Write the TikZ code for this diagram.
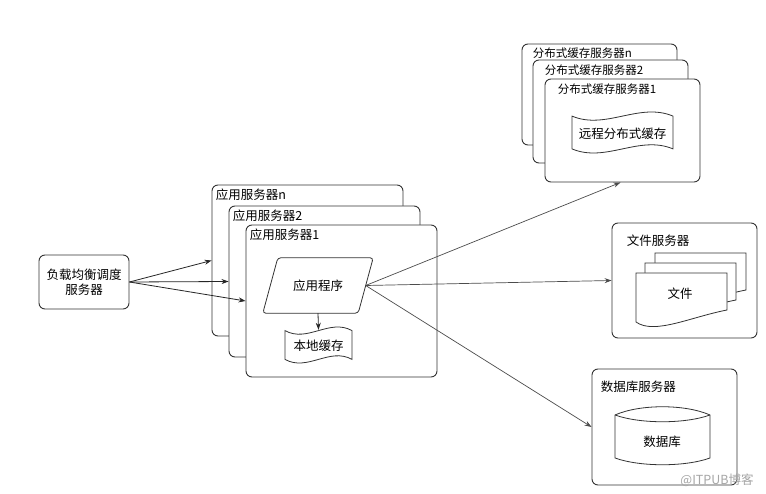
\documentclass[tikz,border=0pt]{standalone}
\usepackage{fontspec}
\setmainfont{Noto Sans CJK SC}
\usetikzlibrary{arrows.meta}
\begin{document}
\begin{tikzpicture}[x=1pt,y=-1pt,
  every node/.style={font=\fontsize{12.5}{14}\selectfont, text=black},
  box/.style={draw=black!80, line width=0.9pt, rounded corners=6pt, fill=white, inner sep=0pt},
  ghost/.style={inner sep=0pt},
  shp/.style={draw=black!80, line width=0.8pt},
  title/.style={anchor=west, inner sep=0pt},
  smalltitle/.style={anchor=west, inner sep=0pt, font=\fontsize{11.5}{13}\selectfont},
  arr/.style={draw=black!85, line width=0.8pt, -{Stealth[length=7pt,width=5pt]}},
  wire/.style={draw=black!70, line width=0.7pt, -{Stealth[length=7pt,width=5pt]}}]

\fill[white] (0,0) rectangle (766,494);
\useasboundingbox (0,0) rectangle (766,494);

% load balancer
\node[box, minimum width=90pt, minimum height=54pt, align=center] (lb) at (84,282) {负载均衡调度\\[1pt]服务器};

% application servers
\node[box, minimum width=191pt, minimum height=151pt] (srvn) at (307.5,260.5) {};
\node[title] (tn) at ([shift={(4,10)}]srvn.north west) {应用服务器n};
\node[box, minimum width=191pt, minimum height=151pt] (srv2) at (324.5,281.5) {};
\node[title] (t2) at ([shift={(4,10)}]srv2.north west) {应用服务器2};
\node[box, minimum width=191pt, minimum height=152pt] (srv1) at (341.5,301) {};
\node[title] (t1) at ([shift={(4,10)}]srv1.north west) {应用服务器1};

% application program (parallelogram)
\node[ghost, minimum width=95pt, minimum height=55pt] (app) at (318,285.5) {应用程序};
\draw[shp, rounded corners=3pt] ([xshift=7.5pt]app.north west) -- ([xshift=7.5pt]app.north east)
  -- ([xshift=-7.5pt]app.south east) -- ([xshift=-7.5pt]app.south west) -- cycle;

% local cache (tape)
\draw[shp] (285,330.6) .. controls (307.3,343.1) and (329.7,318.1) .. (352,330.6)
  -- (352,359.4) .. controls (329.7,346.9) and (307.3,371.9) .. (285,359.4) -- cycle;
\node[ghost, minimum width=67pt, minimum height=36pt] (lc) at (318.5,346) {本地缓存};

% distributed cache servers
\node[box, minimum width=155pt, minimum height=101pt] (dcn) at (599.5,94.5) {};
\node[smalltitle] (dtn) at ([shift={(11,10)}]dcn.north west) {分布式缓存服务器n};
\node[box, minimum width=155pt, minimum height=103pt] (dc2) at (610.5,111.5) {};
\node[smalltitle] (dt2) at ([shift={(12,11)}]dc2.north west) {分布式缓存服务器2};
\node[box, minimum width=155pt, minimum height=103pt] (dc1) at (622.5,130.5) {};
\node[smalltitle] (dt1) at ([shift={(13,11)}]dc1.north west) {分布式缓存服务器1};
\draw[shp] (572,116.1) .. controls (605.7,130.3) and (639.3,101.9) .. (673,116.1)
  -- (673,148.9) .. controls (639.3,134.7) and (605.7,163.1) .. (572,148.9) -- cycle;
\node[ghost] (rc) at (622.5,134) {远程分布式缓存};

% file server
\node[box, minimum width=145pt, minimum height=115pt] (fs) at (684.5,280.5) {};
\node[title] (fst) at ([shift={(15,18)}]fs.north west) {文件服务器};
\draw[shp, fill=white] (655,253) -- (746,253) -- (746,290) .. controls (709.6,297) and (673.2,315) .. (655,302) -- cycle;
\draw[shp, fill=white] (645,263) -- (736,263) -- (736,300) .. controls (699.6,307) and (663.2,325) .. (645,312) -- cycle;
\draw[shp, fill=white] (636,273) -- (727,273) -- (727,310) .. controls (690.6,317) and (654.2,335) .. (636,322) -- cycle;
\node[ghost] (fdoc) at (680,294) {文件};

% database server
\node[box, minimum width=145pt, minimum height=116pt] (db) at (664.5,427) {};
\node[title] (dbt) at ([shift={(9,18)}]db.north west) {数据库服务器};
\draw[shp] (615,415) .. controls (640,404) and (685,404) .. (710,415)
  -- (710,458) .. controls (685,467) and (640,467) .. (615,458) -- cycle;
\draw[shp] (615,415) .. controls (640,424) and (685,424) .. (710,415);
\node[ghost] (dbc) at (662,442) {数据库};

% connectors
\draw[arr] (lb.east) -- (srvn.west);
\draw[arr] (lb.east) -- (srv2.west);
\draw[arr] (lb.east) -- (srv1.west);
\draw[arr] (app.south) -- ([yshift=-2pt]lc.north);
\draw[wire] (app.east) -- ([xshift=-2pt]dc1.south);
\draw[wire] (app.east) -- (fs.west);
\draw[wire] (app.east) -- (db.west);

% watermark
\node[ghost, text=black!35] (wm) at (717,480) {@ITPUB博客};
\end{tikzpicture}
\end{document}
